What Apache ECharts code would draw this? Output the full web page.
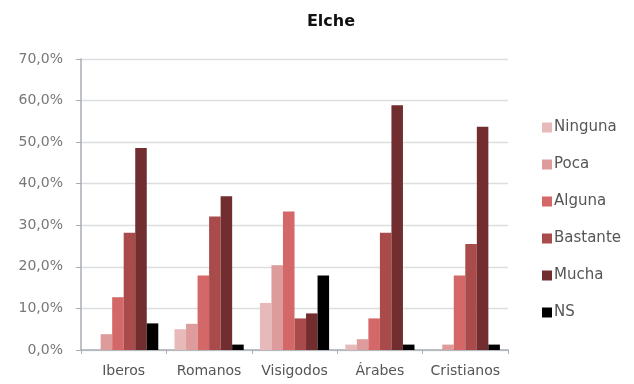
<!DOCTYPE html>
<html>
<head>
<meta charset="utf-8">
<script src="https://cdn.jsdelivr.net/npm/echarts@6/dist/echarts.min.js"></script>
<style>
  html, body { margin: 0; padding: 0; background: #fff; }
  #chart { width: 634px; height: 384px; }
</style>
</head>
<body>
<div id="chart"></div>
<script>
// Periods and response shares (%) for Elche
const categories = ['Iberos', 'Romanos', 'Visigodos', 'Árabes', 'Cristianos'];
const seriesNames = ['Ninguna', 'Poca', 'Alguna', 'Bastante', 'Mucha', 'NS'];
const ninguna  = [0.0, 5.0, 11.3, 1.3, 0.0];
const poca     = [3.8, 6.3, 20.4, 2.6, 1.3];
const alguna   = [12.7, 17.9, 33.3, 7.6, 17.9];
const bastante = [28.2, 32.1, 7.6, 28.2, 25.5];
const mucha    = [48.6, 37.0, 8.8, 58.9, 53.7];
const ns       = [6.4, 1.3, 17.9, 1.3, 1.3];
const yTicks = [0, 10, 20, 30, 40, 50, 60, 70];

const colors = ['#e8b9b9', '#dd9c9b', '#d46767', '#a94b4b', '#722e2e', '#000000'];
const values = [ninguna, poca, alguna, bastante, mucha, ns];

const chart = echarts.init(document.getElementById('chart'), null, { renderer: 'canvas' });

const fontFamily = '"DejaVu Sans", "Open Sans", sans-serif';

chart.setOption({
  animation: false,
  color: colors,
  title: {
    text: 'Elche',
    left: 326,
    top: 9,
    textAlign: 'center',
    textStyle: { fontFamily: fontFamily, fontSize: 16, fontWeight: 'bold', color: '#111' }
  },
  legend: {
    orient: 'vertical',
    left: 537,
    top: 115,
    itemWidth: 10,
    itemHeight: 10,
    itemGap: 22,
    icon: 'rect',
    data: seriesNames,
    textStyle: { fontFamily: fontFamily, fontSize: 15, color: '#555', padding: [0, 0, 0, -3] }
  },
  grid: { left: 81, right: 126, top: 59, bottom: 34, containLabel: false },
  xAxis: {
    type: 'category',
    data: categories,
    axisLine: { lineStyle: { color: '#a8adb4', width: 1.5 } },
    axisTick: { show: true, length: 4, lineStyle: { color: '#a8adb4' } },
    axisLabel: {
      fontFamily: fontFamily, fontSize: 14, color: '#555', margin: 14,
      interval: 0, hideOverlap: false
    }
  },
  yAxis: {
    type: 'value',
    min: 0,
    max: 70,
    interval: 10,
    axisLine: { show: true, lineStyle: { color: '#a8adb4', width: 1.5 } },
    axisTick: { show: true, length: 5, lineStyle: { color: '#a8adb4' } },
    splitLine: { lineStyle: { color: '#dcdde0', width: 1.3 } },
    axisLabel: {
      fontFamily: fontFamily, fontSize: 14, color: '#777', margin: 18,
      formatter: v => yTicks.includes(v) ? v.toFixed(1).replace('.', ',') + '%' : ''
    }
  },
  series: seriesNames.map((name, i) => ({
    name: name,
    type: 'bar',
    data: values[i],
    barGap: '0%',
    barCategoryGap: '19%',
    itemStyle: { color: colors[i] }
  }))
});
</script>
</body>
</html>
